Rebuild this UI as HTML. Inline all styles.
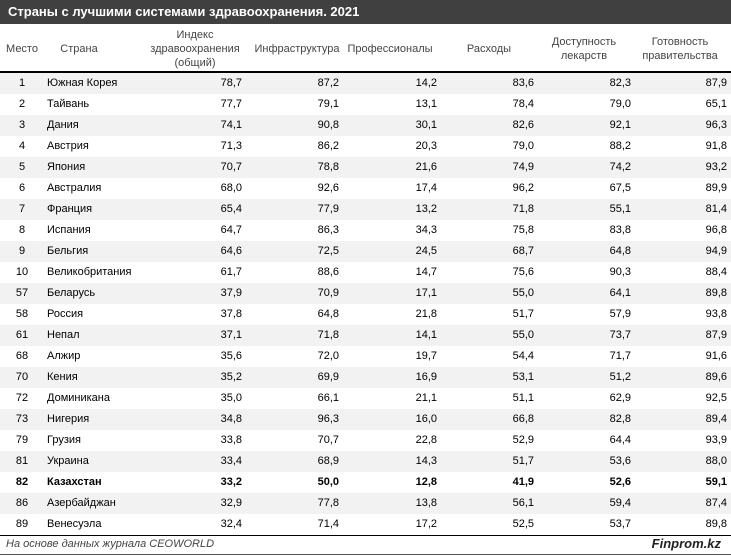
<!DOCTYPE html>
<html><head><meta charset="utf-8"><style>
body{margin:0;width:731px;height:556px;background:#fff;font-family:"Liberation Sans","DejaVu Sans",sans-serif;font-size:11px;color:#000;position:relative;overflow:hidden}
.t{position:absolute;left:0;top:0;width:731px;height:24px;background:#404040;color:#fff;font-weight:bold;font-size:13px;line-height:24px;padding-left:8px;box-sizing:border-box}
.h{position:absolute;color:#444;text-align:center;line-height:14px;font-size:11px;transform:translateX(-50%);white-space:nowrap}
.r{position:absolute;left:0;width:731px;height:21px;line-height:21px}
.r span{position:absolute;white-space:nowrap}
.g{background:#f2f2f2}
.b{font-weight:bold}
.ln{position:absolute;left:0;width:731px;height:2px;background:#000}
</style></head><body>
<div class="t">Страны с лучшими системами здравоохранения. 2021</div>
<div class="h" style="left:22px;top:42px">Место</div>
<div class="h" style="left:79px;top:42px">Страна</div>
<div class="h" style="left:195px;top:28px">Индекс<br>здравоохранения<br>(общий)</div>
<div class="h" style="left:297px;top:42px">Инфраструктура</div>
<div class="h" style="left:390px;top:42px">Профессионалы</div>
<div class="h" style="left:489px;top:42px">Расходы</div>
<div class="h" style="left:584px;top:35px">Доступность<br>лекарств</div>
<div class="h" style="left:680px;top:35px">Готовность<br>правительства</div>
<div class="ln" style="top:71px"></div>
<div id="rows"></div>
<div class="ln" style="top:535px;height:1px"></div>
<div style="position:absolute;left:6px;top:538px;font-style:italic;color:#444;font-size:11px">На основе данных журнала CEOWORLD</div>
<div style="position:absolute;right:10px;top:536px;font-style:italic;font-weight:bold;color:#222;font-size:13px">Finprom.kz</div>
<div class="ln" style="top:554px;height:1px;background:#555"></div>
<script>
var d=[["1","Южная Корея","78,7","87,2","14,2","83,6","82,3","87,9"],["2","Тайвань","77,7","79,1","13,1","78,4","79,0","65,1"],["3","Дания","74,1","90,8","30,1","82,6","92,1","96,3"],["4","Австрия","71,3","86,2","20,3","79,0","88,2","91,8"],["5","Япония","70,7","78,8","21,6","74,9","74,2","93,2"],["6","Австралия","68,0","92,6","17,4","96,2","67,5","89,9"],["7","Франция","65,4","77,9","13,2","71,8","55,1","81,4"],["8","Испания","64,7","86,3","34,3","75,8","83,8","96,8"],["9","Бельгия","64,6","72,5","24,5","68,7","64,8","94,9"],["10","Великобритания","61,7","88,6","14,7","75,6","90,3","88,4"],["57","Беларусь","37,9","70,9","17,1","55,0","64,1","89,8"],["58","Россия","37,8","64,8","21,8","51,7","57,9","93,8"],["61","Непал","37,1","71,8","14,1","55,0","73,7","87,9"],["68","Алжир","35,6","72,0","19,7","54,4","71,7","91,6"],["70","Кения","35,2","69,9","16,9","53,1","51,2","89,6"],["72","Доминикана","35,0","66,1","21,1","51,1","62,9","92,5"],["73","Нигерия","34,8","96,3","16,0","66,8","82,8","89,4"],["79","Грузия","33,8","70,7","22,8","52,9","64,4","93,9"],["81","Украина","33,4","68,9","14,3","51,7","53,6","88,0"],["82","Казахстан","33,2","50,0","12,8","41,9","52,6","59,1"],["86","Азербайджан","32,9","77,8","13,8","56,1","59,4","87,4"],["89","Венесуэла","32,4","71,4","17,2","52,5","53,7","89,8"]];
var R=[242,339,437,534,631,727],h="";
d.forEach(function(r,i){h+='<div class="r'+(i%2==0?' g':'')+(i==19?' b':'')+'" style="top:'+(73+i*21)+'px"><span style="left:22px;transform:translateX(-50%)">'+r[0]+'</span><span style="left:47px">'+r[1]+'</span>';for(var k=0;k<6;k++)h+='<span style="right:'+(731-R[k])+'px">'+r[k+2]+'</span>';h+='</div>';});
document.getElementById('rows').innerHTML=h;
</script>
</body></html>
